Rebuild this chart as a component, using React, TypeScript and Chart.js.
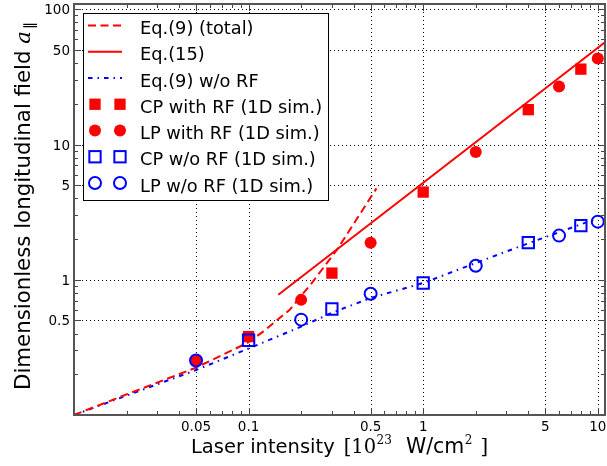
import React, { useEffect, useRef } from "react";
import { Chart, registerables } from "chart.js";

Chart.register(...registerables);

// ---- tick labels ----
const xTickVals = [0.05, 0.1, 0.5, 1, 5, 10];
const xTickLabels = ["0.05", "0.1", "0.5", "1", "5", "10"];
const yTickVals = [0.5, 1, 5, 10, 50, 100];
const yTickLabels = ["0.5", "1", "5", "10", "50", "100"];

// ---- Eq.(9) (total) ----
const eq9TotX = [0.01, 0.02, 0.05, 0.08, 0.1, 0.12, 0.15, 0.172, 0.23, 0.32, 0.42, 0.54];
const eq9TotY = [0.1, 0.142, 0.224, 0.3, 0.345, 0.41, 0.52, 0.6, 0.945, 1.66, 2.86, 4.74];

// ---- Eq.(15) ----
const eq15X = [0.148, 11];
const eq15Y = [0.775, 57];

// ---- Eq.(9) w/o RF ----
const eq9NoRfX = [0.01, 0.05, 0.1, 0.2, 0.3, 0.5, 1, 2, 4, 10];
const eq9NoRfY = [0.1, 0.215, 0.31, 0.45, 0.57, 0.733, 0.946, 1.33, 1.86, 2.85];

// ---- simulations ----
const cpRfX = [0.1, 0.3, 1, 4, 8];
const cpRfY = [0.38, 1.12, 4.45, 18.1, 36.1];
const lpRfX = [0.05, 0.2, 0.5, 2, 6, 10];
const lpRfY = [0.253, 0.71, 1.88, 8.82, 26.9, 43.2];
const cpNoRfX = [0.1, 0.3, 1, 4, 8];
const cpNoRfY = [0.357, 0.608, 0.946, 1.88, 2.51];
const lpNoRfX = [0.05, 0.2, 0.5, 2, 6, 10];
const lpNoRfY = [0.253, 0.507, 0.789, 1.27, 2.12, 2.69];

const legendLabels = [
  "Eq.(9) (total)",
  "Eq.(15)",
  "Eq.(9) w/o RF",
  "CP with RF (1D sim.)",
  "LP with RF (1D sim.)",
  "CP w/o RF (1D sim.)",
  "LP w/o RF (1D sim.)",
];

const RED = "#ff0000";
const BLUE = "#0000ff";
const DASH = [8, 4.5];
const DASHDOT = [4.5, 5, 1.5, 5];

const zip = (xs: number[], ys: number[]) => xs.map((x, i) => ({ x, y: ys[i] }));

const SANS = "'DejaVu Sans', sans-serif";
const SERIF = "'DejaVu Serif', serif";

function drawMarker(ctx: CanvasRenderingContext2D, kind: number, x: number, y: number) {
  ctx.save();
  ctx.setLineDash([]);
  if (kind === 0) {
    ctx.fillStyle = RED;
    ctx.fillRect(x - 5.65, y - 5.65, 11.3, 11.3);
  } else if (kind === 1) {
    ctx.fillStyle = RED;
    ctx.beginPath();
    ctx.arc(x, y, 6, 0, Math.PI * 2);
    ctx.fill();
  } else if (kind === 2) {
    ctx.strokeStyle = BLUE;
    ctx.lineWidth = 2;
    ctx.strokeRect(x - 5.65, y - 5.65, 11.3, 11.3);
  } else {
    ctx.strokeStyle = BLUE;
    ctx.lineWidth = 2;
    ctx.beginPath();
    ctx.arc(x, y, 6, 0, Math.PI * 2);
    ctx.stroke();
  }
  ctx.restore();
}

const decorPlugin = {
  id: "decor",
  beforeDatasetsDraw(chart: any) {
    const { ctx, chartArea: a, scales } = chart;
    const xs = scales.x;
    const ys = scales.y;
    ctx.save();
    ctx.strokeStyle = "#000";
    ctx.lineWidth = 1;
    ctx.setLineDash([1, 3]);
    for (const v of xTickVals) {
      const p = Math.round(xs.getPixelForValue(v)) + 0.5;
      ctx.beginPath();
      ctx.moveTo(p, a.top);
      ctx.lineTo(p, a.bottom);
      ctx.stroke();
    }
    for (const v of yTickVals) {
      const p = Math.round(ys.getPixelForValue(v)) + 0.5;
      ctx.beginPath();
      ctx.moveTo(a.left, p);
      ctx.lineTo(a.right, p);
      ctx.stroke();
    }
    ctx.restore();
  },
  afterDatasetsDraw(chart: any) {
    const { ctx, chartArea: a, scales } = chart;
    const xs = scales.x;
    const ys = scales.y;
    ctx.save();
    ctx.setLineDash([]);
    // ticks (inward, all four sides)
    ctx.strokeStyle = "#444";
    ctx.lineWidth = 1;
    for (let d = -3; d <= 2; d++) {
      for (let m = 1; m <= 9; m++) {
        const vr = parseFloat((m * Math.pow(10, d)).toPrecision(6));
        if (vr >= xs.min && vr <= xs.max) {
          const major = xTickVals.some((t) => Math.abs(t - vr) < 1e-9);
          const len = major ? 7 : 4;
          const p = Math.round(xs.getPixelForValue(vr)) + 0.5;
          ctx.beginPath();
          ctx.moveTo(p, a.bottom);
          ctx.lineTo(p, a.bottom - len);
          ctx.moveTo(p, a.top);
          ctx.lineTo(p, a.top + len);
          ctx.stroke();
        }
        if (vr >= ys.min && vr <= ys.max) {
          const major = yTickVals.some((t) => Math.abs(t - vr) < 1e-9);
          const len = major ? 7 : 4;
          const p = Math.round(ys.getPixelForValue(vr)) + 0.5;
          ctx.beginPath();
          ctx.moveTo(a.left, p);
          ctx.lineTo(a.left + len, p);
          ctx.moveTo(a.right, p);
          ctx.lineTo(a.right - len, p);
          ctx.stroke();
        }
      }
    }
    // frame
    ctx.strokeStyle = "#555";
    ctx.lineWidth = 2;
    ctx.strokeRect(a.left, a.top, a.right - a.left, a.bottom - a.top);

    // tick labels
    ctx.fillStyle = "#000";
    ctx.font = `13.5px ${SANS}`;
    ctx.textBaseline = "alphabetic";
    ctx.textAlign = "center";
    xTickVals.forEach((v, i) => {
      ctx.fillText(xTickLabels[i], xs.getPixelForValue(v), a.bottom + 16);
    });
    ctx.textAlign = "right";
    yTickVals.forEach((v, i) => {
      ctx.fillText(yTickLabels[i], a.left - 4, ys.getPixelForValue(v) + 5);
    });
    ctx.textAlign = "left";

    // legend
    const lx0 = 83, ly0 = 13, lx1 = 328, ly1 = 200;
    ctx.fillStyle = "#fff";
    ctx.fillRect(lx0, ly0, lx1 - lx0, ly1 - ly0);
    ctx.strokeStyle = "#000";
    ctx.lineWidth = 1;
    ctx.strokeRect(lx0 + 0.5, ly0 + 0.5, lx1 - lx0, ly1 - ly0);
    ctx.font = `17.8px ${SANS}`;
    legendLabels.forEach((lab, i) => {
      const cy = 25.5 + i * 26.25;
      if (i < 3) {
        ctx.save();
        ctx.lineWidth = 2;
        ctx.strokeStyle = i < 2 ? RED : BLUE;
        ctx.setLineDash(i === 0 ? DASH : i === 1 ? [] : DASHDOT);
        ctx.beginPath();
        ctx.moveTo(88, cy);
        ctx.lineTo(122, cy);
        ctx.stroke();
        ctx.restore();
      } else {
        drawMarker(ctx, i - 3, 95, cy);
        drawMarker(ctx, i - 3, 120, cy);
      }
      ctx.fillStyle = "#000";
      ctx.fillText(lab, 140, cy + 8.5);
    });

    // x title: [text, font, baseline shift, gap after]
    const parts: [string, string, number, number][] = [
      ["Laser intensity", `19.5px ${SANS}`, 0, 9],
      ["[", `19.5px ${SERIF}`, 0, 0],
      ["10", `19.5px ${SERIF}`, 0, 0.5],
      ["23", `12px ${SERIF}`, -9, 14],
      ["W/cm", `20.5px ${SANS}`, 0, 0.5],
      ["2", `12px ${SERIF}`, -9, 8],
      ["]", `19.5px ${SERIF}`, 0, 0],
    ];
    let total = 0;
    for (const [t, f, , g] of parts) {
      ctx.font = f;
      total += ctx.measureText(t).width + g;
    }
    let x = (a.left + a.right) / 2 - total / 2;
    const base = 453;
    ctx.fillStyle = "#000";
    for (const [t, f, dy, g] of parts) {
      ctx.font = f;
      ctx.fillText(t, x, base + dy);
      x += ctx.measureText(t).width + g;
    }

    // y title
    ctx.save();
    ctx.translate(30, 207);
    ctx.rotate(-Math.PI / 2);
    const yParts: [string, string, number][] = [
      ["Dimensionless longitudinal field ", `21.3px ${SANS}`, 0],
      ["a", `italic 21.3px ${SERIF}`, 0],
      ["\u2225", `14px ${SANS}`, 4],
    ];
    let ytot = 0;
    for (const [t, f] of yParts) {
      ctx.font = f;
      ytot += ctx.measureText(t).width;
    }
    let yx = -ytot / 2;
    for (const [t, f, dy] of yParts) {
      ctx.font = f;
      ctx.fillText(t, yx, dy);
      yx += ctx.measureText(t).width + (t === "a" ? 2 : 0);
    }
    ctx.restore();
    ctx.restore();
  },
};

export default function App() {
  const ref = useRef<HTMLCanvasElement | null>(null);
  useEffect(() => {
    document.body.style.margin = "0";
    const canvas = ref.current!;
    const chart = new Chart(canvas, {
      type: "scatter",
      data: {
        datasets: [
          {
            label: legendLabels[0],
            data: zip(eq9TotX, eq9TotY),
            showLine: true,
            borderColor: RED,
            borderWidth: 2,
            borderDash: DASH,
            pointRadius: 0,
            order: 10,
          },
          {
            label: legendLabels[1],
            data: zip(eq15X, eq15Y),
            showLine: true,
            borderColor: RED,
            borderWidth: 2,
            pointRadius: 0,
            order: 9,
          },
          {
            label: legendLabels[2],
            data: zip(eq9NoRfX, eq9NoRfY),
            showLine: true,
            borderColor: BLUE,
            borderWidth: 2,
            borderDash: DASHDOT,
            pointRadius: 0,
            order: 11,
          },
          {
            label: legendLabels[3],
            data: zip(cpRfX, cpRfY),
            pointStyle: "rect",
            pointRadius: 8,
            backgroundColor: RED,
            borderColor: RED,
            borderWidth: 0,
            order: 4,
          },
          {
            label: legendLabels[4],
            data: zip(lpRfX, lpRfY),
            pointStyle: "circle",
            pointRadius: 6,
            backgroundColor: RED,
            borderColor: RED,
            borderWidth: 0,
            order: 3,
          },
          {
            label: legendLabels[5],
            data: zip(cpNoRfX, cpNoRfY),
            pointStyle: "rect",
            pointRadius: 8,
            backgroundColor: "rgba(0,0,0,0)",
            borderColor: BLUE,
            borderWidth: 2,
            order: 2,
          },
          {
            label: legendLabels[6],
            data: zip(lpNoRfX, lpNoRfY),
            pointStyle: "circle",
            pointRadius: 6,
            backgroundColor: "rgba(0,0,0,0)",
            borderColor: BLUE,
            borderWidth: 2,
            order: 1,
          },
        ],
      },
      options: {
        animation: false,
        responsive: false,
        devicePixelRatio: 1,
        layout: { autoPadding: false, padding: { top: 4, right: 2, left: 0, bottom: 0 } },
        plugins: {
          legend: { display: false },
          tooltip: { enabled: false },
        },
        scales: {
          x: {
            type: "logarithmic",
            min: 0.01,
            max: 11,
            grid: { display: false, drawTicks: false },
            border: { display: false },
            ticks: { display: false },
            afterFit: (s: any) => {
              s.height = 51;
            },
          },
          y: {
            type: "logarithmic",
            min: 0.1,
            max: 109.4,
            grid: { display: false, drawTicks: false },
            border: { display: false },
            ticks: { display: false },
            afterFit: (s: any) => {
              s.width = 74;
            },
          },
        },
      } as any,
      plugins: [decorPlugin],
    });
    return () => chart.destroy();
  }, []);
  return (
    <div style={{ width: 607, height: 466 }}>
      <canvas ref={ref} width={607} height={466} style={{ display: "block" }} />
    </div>
  );
}
